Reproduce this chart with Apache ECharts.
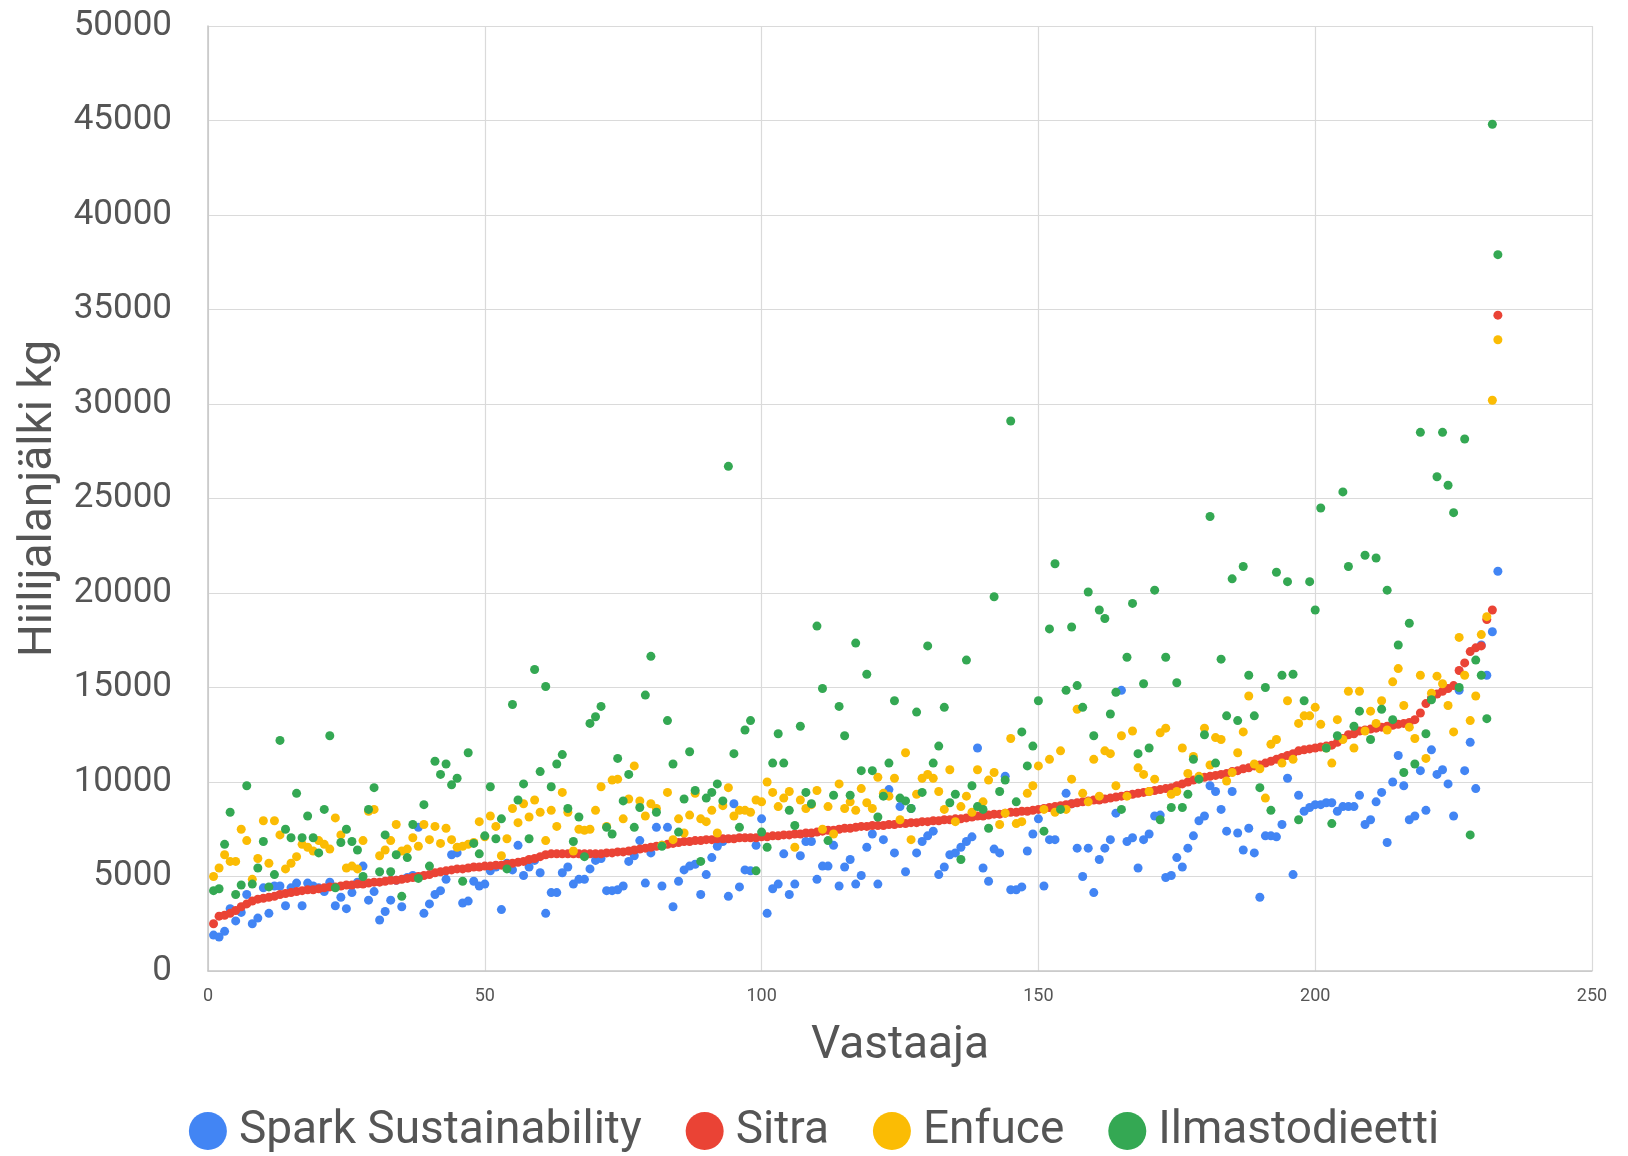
<!DOCTYPE html>
<html>
<head>
<meta charset="utf-8">
<script src="https://cdn.jsdelivr.net/npm/echarts@6/dist/echarts.min.js"></script>
<style>
  html, body { margin: 0; padding: 0; background: #fff; }
  #chart { width: 1628px; height: 1156px; }
</style>
</head>
<body>
<div id="chart"></div>
<script>
// series names
var seriesNames = ['Spark Sustainability', 'Sitra', 'Enfuce', 'Ilmastodieetti'];

// x ticks / y ticks
var xTicks = [0, 50, 100, 150, 200, 250];
var yTicks = [0, 5000, 10000, 15000, 20000, 25000, 30000, 35000, 40000, 45000, 50000];

// values per respondent (1..233)
var spark = [
    1900, 1800, 2100, 3300, 2650, 3100, 4050, 2500, 2800, 4400, 3050, 4500, 4500, 3450, 4400, 4650, 3450, 4650, 4500, 4400, 4200, 4700, 3450, 3900, 3300,
    4150, 4700, 5550, 3750, 4200, 2700, 3150, 3750, 4800, 3400, 4950, 5050, 7600, 3050, 3550, 4050, 4250, 4850, 6150, 6250, 3600, 3700, 4750, 4500,
    4600, 5300, 5500, 3250, 5700, 5350, 6650, 5050, 5500, 5850, 5200, 3050, 4150, 4150, 5200, 5500, 4600, 4850, 4850, 5400, 5850, 5950, 4250, 4250,
    4300, 4500, 5800, 6100, 6900, 4650, 6250, 7600, 4500, 7600, 3400, 4750, 5350, 5550, 5650, 4050, 5100, 6000, 6600, 6850, 3950, 8850, 4450, 5350,
    5300, 6650, 8050, 3050, 4350, 4600, 6200, 4050, 4600, 6100, 6850, 6850, 4850, 5550, 5550, 6650, 4500, 5500, 5900, 4600, 5050, 6550, 7250, 4600,
    6950, 9600, 6250, 8700, 5250, 8600, 6250, 6850, 7150, 7400, 5100, 5500, 6150, 6250, 6550, 6850, 7100, 11800, 5450, 4750, 6450, 6250, 10300, 4300,
    4300, 4450, 6350, 7250, 8050, 4500, 6950, 6950, 8700, 9400, 8850, 6500, 5000, 6500, 4150, 5900, 6500, 6950, 8350, 14850, 6850, 7050, 5450, 6950,
    7250, 8200, 8250, 4950, 5050, 6000, 5500, 6500, 7150, 7950, 8200, 9800, 9500, 8550, 7400, 9500, 7300, 6400, 7550, 6250, 3900, 7150, 7150, 7100,
    7750, 10200, 5100, 9300, 8450, 8650, 8800, 8800, 8900, 8900, 8450, 8700, 8700, 8700, 9300, 7750, 8000, 8950, 9450, 6800, 10000,
    11400, 9800, 8000, 8200, 10600, 8500, 11700, 10400, 10650, 9900, 8200, 14850, 10600, 12100, 9650, 17250, 15650, 17950, 21150
];
var sitra = [
    2500, 2900, 2950, 3050, 3200, 3400, 3550, 3700, 3800, 3850, 3900, 3950, 4050, 4100, 4150, 4200, 4250, 4300, 4300, 4350, 4400, 4450, 4450, 4500, 4550,
    4550, 4600, 4600, 4650, 4700, 4700, 4750, 4800, 4800, 4850, 4900, 4950, 5000, 5050, 5100, 5200, 5250, 5300, 5350, 5400, 5400, 5450, 5500, 5500,
    5550, 5550, 5600, 5600, 5650, 5700, 5750, 5800, 5900, 5950, 6050, 6150, 6200, 6200, 6200, 6200, 6200, 6200, 6200, 6200, 6200, 6200, 6250, 6250,
    6300, 6300, 6350, 6400, 6450, 6500, 6550, 6600, 6650, 6700, 6750, 6800, 6850, 6850, 6900, 6900, 6950, 6950, 7000, 7000, 7000, 7000, 7050, 7050,
    7050, 7050, 7100, 7100, 7150, 7150, 7200, 7200, 7250, 7250, 7300, 7300, 7350, 7400, 7450, 7450, 7500, 7550, 7550, 7600, 7650, 7650, 7700, 7700,
    7700, 7750, 7750, 7800, 7800, 7850, 7850, 7900, 7900, 7950, 7950, 8000, 8000, 8050, 8050, 8100, 8150, 8200, 8200, 8250, 8300, 8300, 8350, 8400,
    8400, 8450, 8450, 8500, 8550, 8600, 8650, 8700, 8750, 8800, 8850, 8900, 8950, 9000, 9050, 9050, 9100, 9150, 9200, 9250, 9300, 9350, 9400, 9450,
    9500, 9550, 9600, 9650, 9700, 9800, 9900, 10000, 10100, 10200, 10250, 10300, 10350, 10400, 10450, 10550, 10600, 10700, 10750, 10850, 10900, 11000, 11100, 11200,
    11300, 11400, 11500, 11650, 11700, 11750, 11800, 11850, 11900, 11950, 12100, 12300, 12500, 12550, 12700, 12750, 12800, 12850, 12900, 12950, 13000,
    13050, 13100, 13150, 13300, 13650, 14150, 14450, 14650, 14800, 14950, 15100, 15900, 16300, 16900, 17100, 17200, 18600, 19100, 34700
];
var enfuce = [
    5000, 5450, 6150, 5800, 5800, 7500, 6900, 4850, 5950, 7950, 5700, 7950, 7200, 5400, 5700, 6050, 6700, 6550, 6350, 6900, 6700, 6450, 8100, 7200, 5450,
    5550, 5400, 6900, 8450, 8550, 6100, 6400, 6900, 7750, 6350, 6450, 7050, 6600, 7750, 6950, 7650, 6750, 7550, 6950, 6550, 6600, 6700, 6800, 7900,
    7100, 8200, 7650, 6100, 7000, 8600, 7850, 8850, 8150, 9050, 8400, 6900, 8500, 7650, 9450, 8400, 6350, 7500, 7450, 7500, 8500, 9750, 7650, 10100,
    10150, 8050, 9100, 10850, 9000, 8200, 8850, 8600, 6650, 9450, 6950, 8050, 7300, 8250, 9400, 8050, 7900, 8500, 7300, 8750, 9700, 8200, 8500, 8500,
    8400, 9050, 8950, 10000, 9450, 8700, 9150, 9500, 6550, 9050, 8600, 8800, 9550, 7500, 8700, 7250, 9900, 8600, 8950, 8500, 9650, 8900, 8600, 10250,
    9400, 9250, 10200, 8000, 11550, 6950, 9350, 10200, 10400, 10200, 9500, 8550, 10650, 7900, 8700, 9250, 8400, 10650, 8950, 10100, 10500, 7750, 8350, 12300,
    7800, 7900, 9400, 9800, 10850, 8550, 11200, 8400, 11650, 8550, 10150, 13850, 9400, 8950, 11200, 9250, 11650, 11500, 9800, 12450, 9250, 12700, 10750, 10400,
    9500, 10150, 12600, 12850, 9350, 9500, 11800, 10450, 11350, 10300, 12850, 10900, 12350, 12250, 10050, 10500, 11550, 12650, 14550, 10950, 10700, 9150, 12000, 12250,
    11000, 14300, 11200, 13100, 13500, 13500, 13950, 13050, 11800, 11000, 13300, 12250, 14800, 11800, 14800, 12700, 13750, 13100, 14300, 12750, 15300,
    16000, 14050, 12900, 12300, 15650, 11250, 14700, 15600, 15200, 14050, 12650, 17650, 15650, 13250, 14550, 17800, 18750, 30200, 33400
];
var ilmasto = [
    4250, 4350, 6700, 8400, 4050, 4550, 9800, 4600, 5450, 6850, 4450, 5100, 12200, 7500, 7050, 9400, 7050, 8200, 7050, 6250, 8550, 12450, 4400, 6800, 7500,
    6850, 6400, 5000, 8550, 9700, 5250, 7200, 5250, 6150, 3950, 6000, 7750, 4900, 8800, 5550, 11100, 10400, 10950, 9850, 10200, 4750, 11550, 6750,
    6200, 7150, 9750, 7000, 8050, 5400, 14100, 9050, 9900, 7000, 15950, 10550, 15050, 9750, 10950, 11450, 8600, 6850, 8150, 6050, 13100, 13450, 14000, 7600, 7250,
    11250, 9000, 10400, 7600, 8650, 14600, 16650, 8400, 6600, 13250, 10950, 7350, 9100, 11600, 9550, 5800, 9150, 9450, 9900, 9000, 26700, 11500, 7600, 12750,
    13250, 5300, 7350, 6550, 11000, 12550, 11000, 8500, 7700, 12950, 9450, 8850, 18250, 14950, 6900, 9300, 14000, 12450, 9300, 17350, 10600, 15700, 10600, 8150,
    9250, 11000, 14300, 9150, 9000, 8600, 13700, 9450, 17200, 11000, 11900, 13950, 8900, 9350, 5900, 16450, 9800, 8700, 8550, 7550, 19800, 9500, 10100, 29100,
    8950, 12650, 10850, 11900, 14300, 7400, 18100, 21550, 8550, 14850, 18200, 15100, 13950, 20050, 12450, 19100, 18650, 13600, 14750, 8550, 16600, 19450, 11500, 15200,
    11800, 20150, 8000, 16600, 8650, 15250, 8650, 9350, 11200, 10150, 12500, 24050, 11000, 16500, 13500, 20750, 13250, 21400, 15650, 13500, 9700, 15000, 8500, 21100, 15650,
    20600, 15700, 8000, 14300, 20600, 19100, 24500, 11800, 7800, 12450, 25350, 21400, 12950, 13750, 22000, 12250, 21850, 13850, 20150, 13300,
    17250, 10500, 18400, 10950, 28500, 12550, 14350, 26150, 28500, 25700, 24250, 15000, 28150, 7200, 16450, 15650, 13350, 44800, 37900
];

var colors = ['#4285F4', '#EA4335', '#FBBC04', '#34A853'];
var textColor = '#555555';
var fontFam = 'Roboto, Arial, sans-serif';

function toPoints(list) {
    return list.map(function (v, i) { return [i + 1, v]; });
}

var allData = [spark, sitra, enfuce, ilmasto];

var myChart = echarts.init(document.getElementById('chart'));
var option = {
    animation: false,
    color: colors,
    textStyle: {fontFamily: fontFam},
    grid: {left: 208, right: 36, top: 26, bottom: 185},
    legend: {
        data: seriesNames,
        bottom: -3,
        left: 'center',
        icon: 'circle',
        itemWidth: 38,
        itemHeight: 38,
        itemGap: 44,
        textStyle: {fontSize: 46, color: textColor, fontFamily: fontFam, padding: [0, 0, 0, 7]}
    },
    xAxis: {
        type: 'value',
        min: xTicks[0],
        max: xTicks[xTicks.length - 1],
        interval: 50,
        name: 'Vastaaja',
        nameLocation: 'middle',
        nameGap: 52,
        nameTextStyle: {fontSize: 46, color: textColor},
        axisLine: {show: true, lineStyle: {color: '#c6c6c6', width: 1.5}},
        axisTick: {show: false},
        axisLabel: {fontSize: 18, color: textColor, margin: 16},
        splitLine: {show: true, lineStyle: {color: '#dadada', width: 1.2}}
    },
    yAxis: {
        type: 'value',
        min: yTicks[0],
        max: yTicks[yTicks.length - 1],
        interval: 5000,
        name: 'Hiilijalanjälki kg',
        nameLocation: 'middle',
        nameGap: 133,
        nameTextStyle: {fontSize: 46, color: textColor},
        axisLine: {show: true, lineStyle: {color: '#c6c6c6', width: 1.5}},
        axisTick: {show: false},
        axisLabel: {
            fontSize: 35, color: textColor, margin: 36, padding: [7, 0, 0, 0],
            formatter: function (v) { return String(v); }
        },
        splitLine: {show: true, lineStyle: {color: '#dadada', width: 1.2}}
    },
    series: seriesNames.map(function (name, k) {
        return {
            name: name,
            type: 'scatter',
            symbol: 'circle',
            symbolSize: 9,
            itemStyle: {opacity: 1},
            data: toPoints(allData[k])
        };
    })
};
myChart.setOption(option);
</script>
</body>
</html>
